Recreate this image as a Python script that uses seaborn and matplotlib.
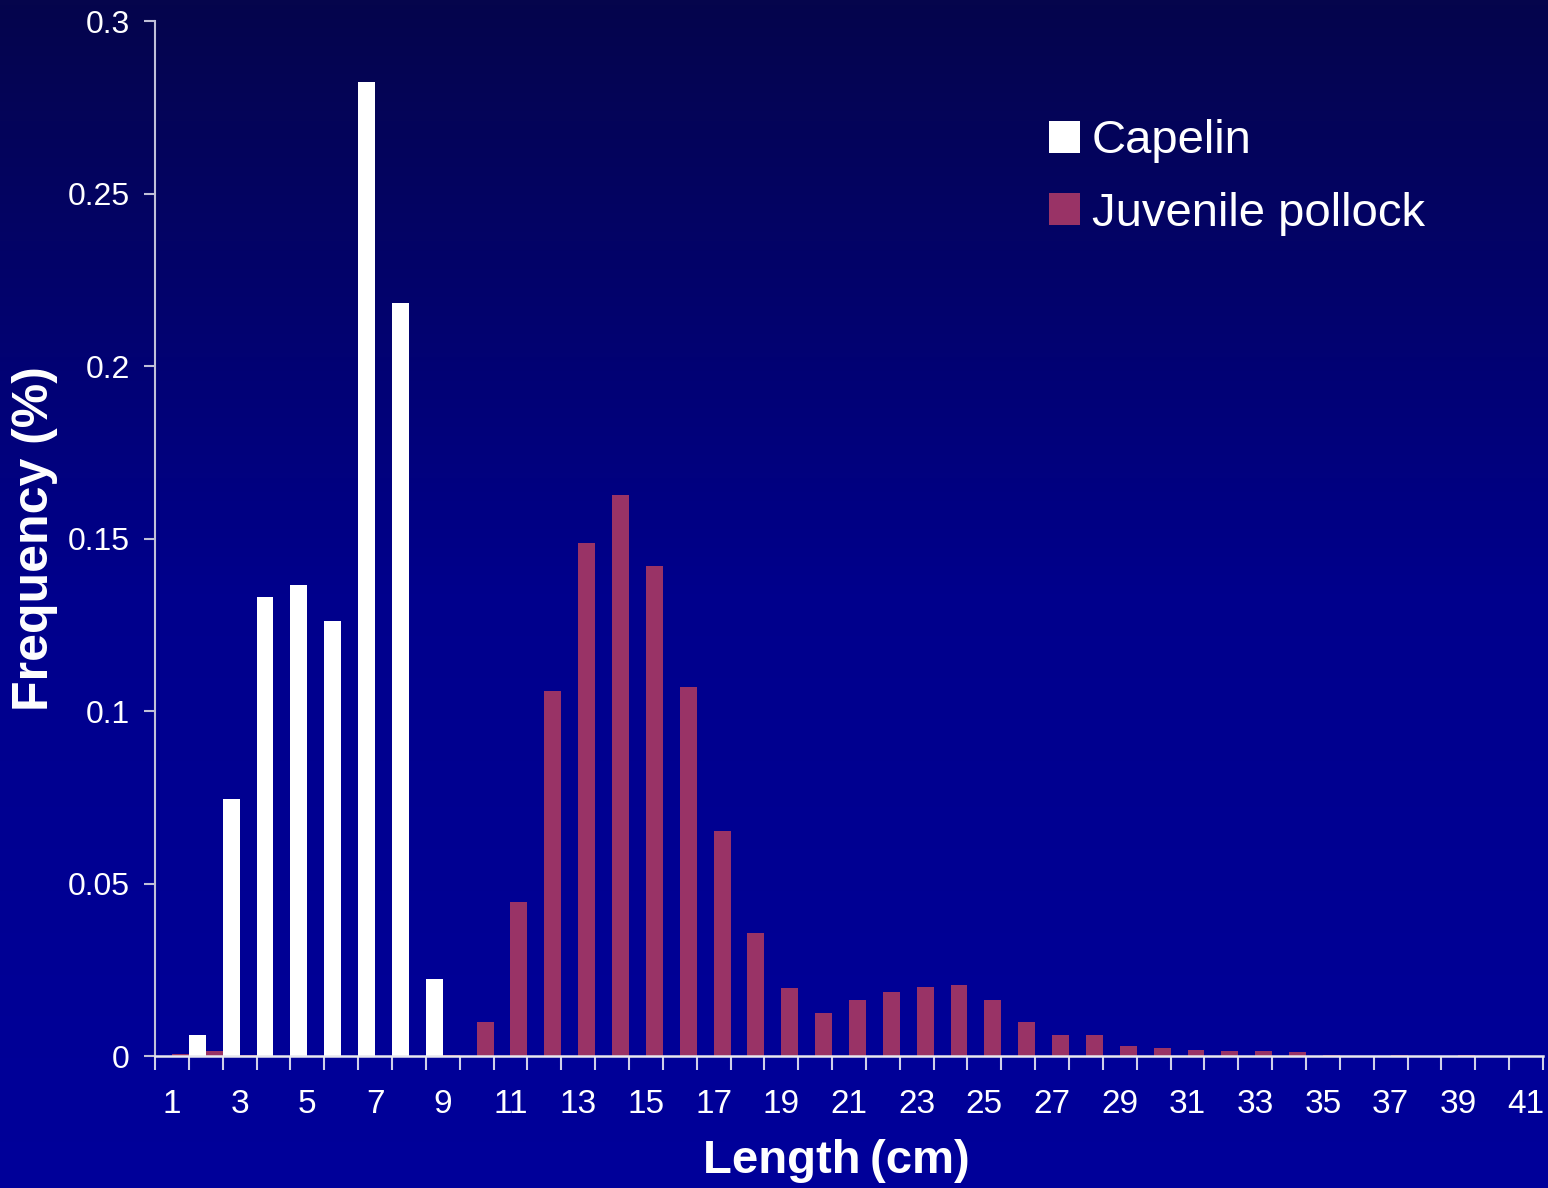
import numpy as np
import pandas as pd
import matplotlib
matplotlib.use('Agg')
import matplotlib.pyplot as plt
from matplotlib.colors import LinearSegmentedColormap
import seaborn as sns

# length classes (cm)
lengths = list(range(1, 42))

capelin = [0.0, 0.0061, 0.0745, 0.133, 0.1365, 0.126, 0.2823, 0.2183, 0.0223,
           0, 0, 0, 0, 0, 0, 0, 0, 0, 0, 0, 0, 0, 0, 0, 0, 0, 0, 0, 0, 0,
           0, 0, 0, 0, 0, 0, 0, 0, 0, 0, 0]

pollock = [0.0007, 0.0015, 0.0003, 0, 0, 0, 0, 0, 0.0003, 0.0099,
           0.0446, 0.1058, 0.1487, 0.1626, 0.142, 0.107, 0.0652, 0.0357, 0.0197, 0.0125,
           0.0162, 0.0186, 0.02, 0.0206, 0.0162, 0.0099, 0.0061, 0.0061, 0.0029, 0.0023,
           0.0017, 0.0015, 0.0015, 0.0012, 0.0003, 0, 0.0003, 0, 0.0003, 0, 0]

species = ['Capelin', 'Juvenile pollock']
colors = ['#ffffff', '#993366']

df = pd.DataFrame({
    'Length': lengths * 2,
    'Frequency': capelin + pollock,
    'Species': [species[0]] * len(lengths) + [species[1]] * len(lengths),
})

sns.set_style('white')
plt.rcParams['font.family'] = ['Liberation Sans', 'DejaVu Sans']

fig = plt.figure(figsize=(15.48, 11.88), dpi=100)

# gradient background
bg = fig.add_axes([0, 0, 1, 1], zorder=-10)
cmap = LinearSegmentedColormap.from_list('bg', ['#05054c', '#00008c', '#00009a'])
bg.imshow(np.linspace(0, 1, 256).reshape(-1, 1), aspect='auto', cmap=cmap,
          extent=[0, 1, 0, 1], origin='upper')
bg.axis('off')

ax = fig.add_axes([0.1001, 0.1111, 0.8967, 0.8712])
ax.patch.set_alpha(0)

sns.barplot(data=df, x='Length', y='Frequency', hue='Species', palette=colors,
            width=1.0, linewidth=0, edgecolor='none', saturation=1, ax=ax)

ax.set_xlim(-0.5, len(lengths) - 0.5)
ax.set_ylim(0, 0.3)
ax.set_yticks([0, 0.05, 0.1, 0.15, 0.2, 0.25, 0.3])
ax.set_yticklabels(['0', '0.05', '0.1', '0.15', '0.2', '0.25', '0.3'])

ax.set_xticks(range(0, len(lengths), 2))
ax.set_xticklabels([str(l) for l in lengths[::2]])
ax.set_xticks(np.arange(-0.5, len(lengths), 1), minor=True)
ax.tick_params(axis='x', which='major', bottom=True, length=0, pad=24,
               labelsize=24, colors='white')
ax.tick_params(axis='x', which='minor', bottom=True, length=10, width=1.5,
               color='#d0d0e8', direction='out')
ax.tick_params(axis='y', left=True, length=8, width=1.5, color='#c0c0d8', direction='out',
               labelsize=23, labelcolor='white', pad=10)

for s in ['top', 'right']:
    ax.spines[s].set_visible(False)
ax.spines['left'].set_color('#c0c0d8')
ax.spines['left'].set_linewidth(1.5)
ax.spines['bottom'].set_color('#e8e8f0')
ax.spines['bottom'].set_linewidth(1.8)

ax.set_xlabel('Length\u2009(cm)', fontsize=34, fontweight='bold', color='white')
ax.xaxis.set_label_coords(0.4906, -0.08)
ax.set_ylabel('Frequency (%)', fontsize=36, fontweight='bold', color='white')
ax.yaxis.set_label_coords(-0.07, 0.5)

ax.legend(title=None, frameon=False, fontsize=34, labelcolor='white',
          loc='upper left', bbox_to_anchor=(1040 / 1548, 1 - 110 / 1188),
          bbox_transform=fig.transFigure, handlelength=0.65, handleheight=0.65,
          handletextpad=0.25, labelspacing=0.6, borderaxespad=0, borderpad=0.2)

fig.savefig('out.png', dpi=100)
